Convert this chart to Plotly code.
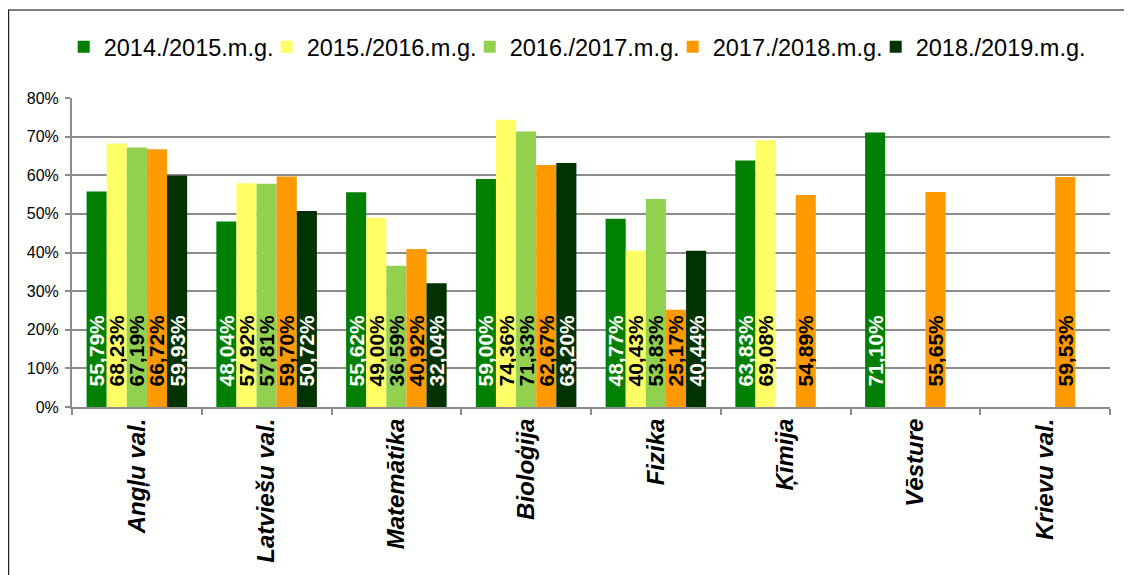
import plotly.graph_objects as go

categories = ["Angļu val.", "Latviešu val.", "Matemātika", "Bioloģija",
              "Fizika", "Ķīmija", "Vēsture", "Krievu val."]
series_names = ["2014./2015.m.g.", "2015./2016.m.g.", "2016./2017.m.g.",
                "2017./2018.m.g.", "2018./2019.m.g."]
v_2014 = [55.79, 48.04, 55.62, 59.00, 48.77, 63.83, 71.10, None]
v_2015 = [68.23, 57.92, 49.00, 74.36, 40.43, 69.08, None, None]
v_2016 = [67.19, 57.81, 36.59, 71.33, 53.83, None, None, None]
v_2017 = [66.72, 59.70, 40.92, 62.67, 25.17, 54.89, 55.65, 59.53]
v_2018 = [59.93, 50.72, 32.04, 63.20, 40.44, None, None, None]
y_ticks = [0, 10, 20, 30, 40, 50, 60, 70, 80]

series_values = [v_2014, v_2015, v_2016, v_2017, v_2018]
colors = ["#008000", "#FFFF66", "#92D050", "#FF9900", "#003300"]
label_colors = ["white", "black", "black", "black", "white"]

NB = "\u00a0\u00a0\u00a0"

def fmt(v):
    if v is None:
        return ""
    return NB + f"{v:.2f}".replace(".", ",") + "%"

fig = go.Figure()
for i, (name, vals, col, lc) in enumerate(zip(series_names, series_values, colors, label_colors)):
    fig.add_trace(go.Bar(
        name=name,
        x=categories,
        y=vals,
        marker=dict(color=col, line=dict(width=0)),
        text=[fmt(v) for v in vals],
        textposition="inside",
        insidetextanchor="start",
        textangle=-90,
        constraintext="none",
        textfont=dict(family="Liberation Sans, Arial", size=21, color=lc, weight="bold"),
        hoverinfo="skip",
        legendwidth=185 if i == len(series_names) - 1 else None,
    ))

fig.update_layout(
    width=1132, height=575,
    margin=dict(l=64, r=30, t=90, b=176),
    paper_bgcolor="white",
    plot_bgcolor="white",
    barmode="group",
    bargap=0.225,
    bargroupgap=0,
    font=dict(family="Liberation Sans, Arial", color="black"),
    legend=dict(
        orientation="h",
        x=-0.008, xanchor="left",
        y=1.165, yanchor="middle",
        font=dict(size=23.5, color="black"),
        entrywidth=158,
        itemclick=False,
        traceorder="normal",
        bgcolor="rgba(0,0,0,0)",
    ),
    showlegend=True,
    xaxis=dict(
        type="category",
        tickangle=-90,
        tickfont=dict(size=24, weight="bold", style="italic", color="black"),
        showline=True, linecolor="#8C8C8C", linewidth=2,
        ticks="outside", tickson="boundaries", ticklen=6, tickcolor="#8C8C8C", tickwidth=2,
        showgrid=False,
    ),
    yaxis=dict(
        range=[0, 80],
        tickvals=y_ticks,
        ticktext=[f"{t}%" for t in y_ticks],
        tickfont=dict(size=16, color="black"),
        ticklabelstandoff=3,
        showline=True, linecolor="#8C8C8C", linewidth=2,
        ticks="outside", ticklen=5, tickcolor="#8C8C8C", tickwidth=2,
        showgrid=True, gridcolor="#8C8C8C", gridwidth=2,
        zeroline=False,
    ),
    shapes=[
        dict(type="line", xref="paper", yref="paper",
             x0=-0.0617, x1=1.2, y0=1.2848, y1=1.2848,
             line=dict(color="black", width=1.2)),
        dict(type="line", xref="paper", yref="paper",
             x0=-0.0617, x1=-0.0617, y0=1.2848, y1=-0.8,
             line=dict(color="#222222", width=2.5)),
    ],
)

fig.write_html("out.html")
